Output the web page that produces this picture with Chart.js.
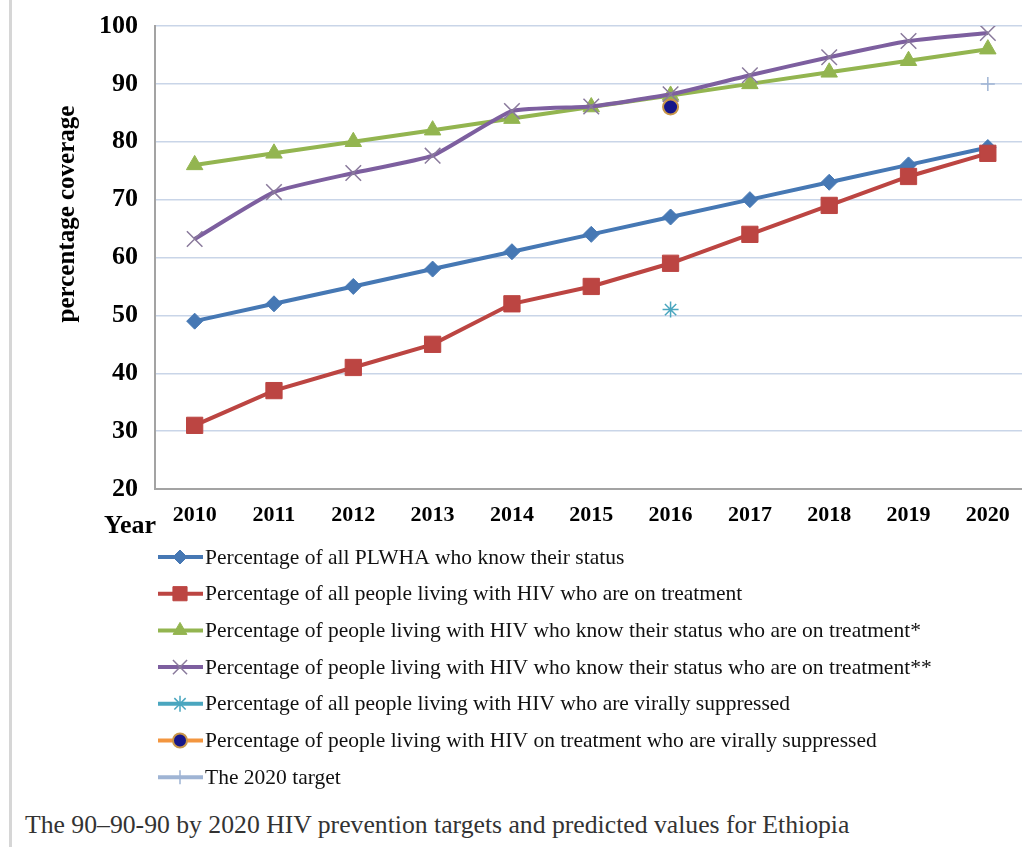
<!DOCTYPE html>
<html>
<head>
<meta charset="utf-8">
<script src="https://cdn.jsdelivr.net/npm/chart.js@4.4.1/dist/chart.umd.min.js"></script>
<style>
  html, body { margin: 0; padding: 0; background: #fff; overflow: hidden; }
  body { width: 1022px; height: 847px; position: relative; }
  #wrap { position: absolute; left: 0; top: 0; width: 1040px; height: 800px; }
  #edge { position: absolute; left: 9px; top: 0; width: 3px; height: 847px; background: #d6d6d6; }
  #caption {
    position: absolute; left: 25px; top: 810px;
    font-family: "Liberation Serif", serif; font-size: 25.7px; color: #333;
    white-space: nowrap;
  }
</style>
</head>
<body>
<div id="edge"></div>
<div id="wrap"><canvas id="chart"></canvas></div>
<div id="caption">The 90–90-90 by 2020 HIV prevention targets and predicted values for Ethiopia</div>
<script>
const years = ['2010', '2011', '2012', '2013', '2014', '2015', '2016', '2017', '2018', '2019', '2020'];

const knowStatus = [49, 52, 55, 58, 61, 64, 67, 70, 73, 76, 79];
const onTreatment = [31, 37, 41, 45, 52, 55, 59, 64, 69, 74, 78];
const knowOnTreatment1 = [76, 78, 80, 82, 84, 86, 88, 90, 92, 94, 96];
const knowOnTreatment2 = [63.2, 71.3, 74.6, 77.6, 85.3, 86.1, 88.2, 91.5, 94.6, 97.4, 98.8];
const allSuppressed = [null, null, null, null, null, null, 51, null, null, null, null];
const treatedSuppressed = [null, null, null, null, null, null, 86, null, null, null, null];
const target2020 = [null, null, null, null, null, null, null, null, null, null, 90];

const seriesLabels = [
    'Percentage of all PLWHA who know their status',
    'Percentage of all people living with HIV who are on treatment',
    'Percentage of people living with HIV who know their status who are on treatment*',
    'Percentage of people living with HIV who know their status who are on treatment**',
    'Percentage of all people living with HIV who are virally suppressed',
    'Percentage of people living with HIV on treatment who are virally suppressed',
    'The 2020 target'
];

const yTicks = { min: 20, max: 100, step: 10 };

const serif = '"Liberation Serif", "Times New Roman", serif';

// y title, "Year" label and the one-column legend
const extras = {
    id: 'extras',
    afterDraw(chart) {
        const ctx = chart.ctx;
        ctx.save();
        ctx.fillStyle = '#000';
        ctx.font = 'bold 25px ' + serif;
        ctx.textAlign = 'center';
        ctx.textBaseline = 'middle';
        ctx.translate(68, 214);
        ctx.rotate(-Math.PI / 2);
        ctx.fillText('percentage coverage', 0, 0);
        ctx.restore();

        ctx.save();
        ctx.fillStyle = '#000';
        ctx.font = 'bold 26px ' + serif;
        ctx.textAlign = 'right';
        ctx.textBaseline = 'alphabetic';
        ctx.fillText('Year', 156, 533);
        ctx.restore();

        chart.data.datasets.forEach((ds, i) => {
            const y = 557 + i * 36.7;
            ctx.save();
            ctx.strokeStyle = ds.legendLine || ds.borderColor;
            ctx.lineWidth = 4;
            ctx.beginPath();
            ctx.moveTo(158, y);
            ctx.lineTo(203, y);
            ctx.stroke();
            ctx.fillStyle = ds.pointBackgroundColor;
            ctx.strokeStyle = ds.pointBorderColor;
            ctx.lineWidth = ds.pointBorderWidth;
            Chart.helpers.drawPoint(ctx, {
                pointStyle: ds.pointStyle,
                radius: ds.legendRadius,
                rotation: 0,
                borderWidth: ds.pointBorderWidth
            }, 180, y);
            ctx.fillStyle = '#111';
            ctx.font = '21.5px ' + serif;
            ctx.textAlign = 'left';
            ctx.textBaseline = 'middle';
            ctx.fillText(ds.label, 205, y + 1);
            ctx.restore();
        });
    }
};

const ctx = document.getElementById('chart').getContext('2d');

new Chart(ctx, {
    type: 'line',
    data: {
        labels: years,
        datasets: [
            {
                label: seriesLabels[0], data: knowStatus, order: 10,
                borderColor: '#4678b4', borderWidth: 4,
                pointStyle: 'rectRot', pointRadius: 8, legendRadius: 7,
                pointBackgroundColor: '#4678b4', pointBorderColor: '#4678b4', pointBorderWidth: 1
            },
            {
                label: seriesLabels[1], data: onTreatment, order: 9,
                borderColor: '#bc4542', borderWidth: 4,
                pointStyle: 'rect', pointRadius: 11.5, legendRadius: 10,
                pointBackgroundColor: '#bc4542', pointBorderColor: '#bc4542', pointBorderWidth: 1
            },
            {
                label: seriesLabels[2], data: knowOnTreatment1, order: 8,
                borderColor: '#93b550', borderWidth: 4,
                pointStyle: 'triangle', pointRadius: 9.5, legendRadius: 8,
                pointBackgroundColor: '#93b550', pointBorderColor: '#93b550', pointBorderWidth: 1
            },
            {
                label: seriesLabels[3], data: knowOnTreatment2, order: 7, tension: 0.15,
                borderColor: '#7d5f9f', borderWidth: 4,
                pointStyle: 'crossRot', pointRadius: 11, legendRadius: 10,
                pointBackgroundColor: '#7d5f9f', pointBorderColor: '#8a7a9c', pointBorderWidth: 1.5
            },
            {
                label: seriesLabels[4], data: allSuppressed, order: 6, showLine: false,
                borderColor: '#4aa6bf', borderWidth: 4,
                pointStyle: 'star', pointRadius: 8, legendRadius: 8,
                pointBackgroundColor: '#4aa6bf', pointBorderColor: '#4aa6bf', pointBorderWidth: 1.5
            },
            {
                label: seriesLabels[5], data: treatedSuppressed, order: 5, showLine: false,
                borderColor: '#f3963f', borderWidth: 4,
                pointStyle: 'circle', pointRadius: 7.5, legendRadius: 7,
                pointBackgroundColor: '#16168a', pointBorderColor: '#c8964a', pointBorderWidth: 2
            },
            {
                label: seriesLabels[6], data: target2020, order: 4, showLine: false,
                borderColor: '#9fb4d4', borderWidth: 4,
                pointStyle: 'cross', pointRadius: 7, legendRadius: 7,
                pointBackgroundColor: '#9fb4d4', pointBorderColor: '#9fb4d4', pointBorderWidth: 1.5
            }
        ]
    },
    options: {
        responsive: true,
        maintainAspectRatio: false,
        animation: false,
        layout: { padding: { top: 26, right: 12, bottom: 0, left: 0 } },
        plugins: {
            legend: { display: false },
            tooltip: { enabled: false }
        },
        elements: { line: { tension: 0 } },
        scales: {
            x: {
                offset: true,
                grid: { display: false, drawTicks: false },
                border: { display: true, color: '#a3a3a3', width: 2 },
                ticks: {
                    color: '#000',
                    padding: 13,
                    font: { family: serif, size: 22, weight: 'bold' },
                    maxRotation: 0,
                    autoSkip: false
                },
                afterFit(scale) { scale.height = 311; }
            },
            y: {
                min: yTicks.min,
                max: yTicks.max,
                grid: { color: '#c9d5e8', lineWidth: 1.5, drawTicks: false },
                border: { display: true, color: '#a3a3a3', width: 2 },
                ticks: {
                    stepSize: yTicks.step,
                    color: '#000',
                    padding: 17,
                    font: { family: serif, size: 26, weight: 'bold' }
                },
                afterFit(scale) {
                    scale.width = 155;
                    scale.paddingTop = 0;
                    scale.paddingBottom = 0;
                }
            }
        }
    },
    plugins: [extras]
});
</script>
</body>
</html>
